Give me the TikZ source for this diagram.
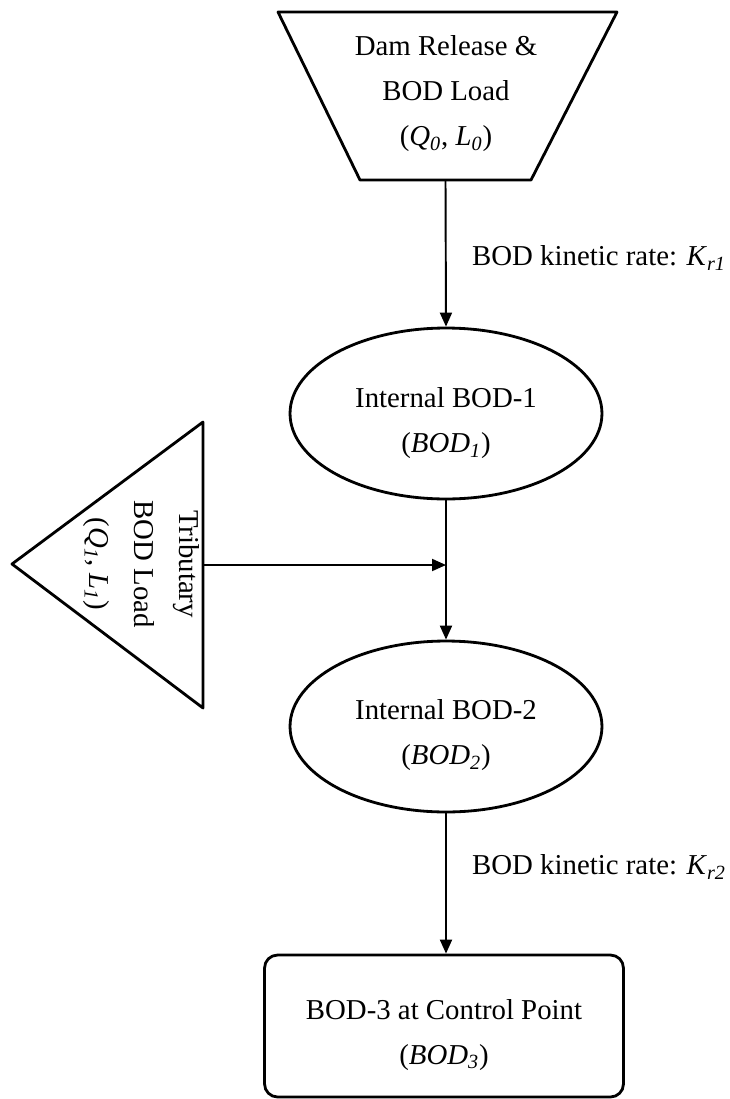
\documentclass[tikz,border=0pt]{standalone}
\usepackage{fontspec}
\setmainfont{Liberation Serif}
\usetikzlibrary{calc,shapes.geometric,arrows.meta}

\newcommand{\vsub}[2]{\textit{#1}\textsubscript{\textit{#2}}}

\begin{document}
\begin{tikzpicture}[x=.02cm,y=-.02cm,line cap=round,line join=round,
  every node/.style={font=\fontsize{16.4}{25.6}\selectfont},
  outline/.style={line width=1.6pt},
  blob/.style={draw,ellipse,line width=1.6pt,minimum width=6.24cm,
    minimum height=3.42cm,inner sep=0pt},
  endbox/.style={draw,rectangle,rounded corners=.26cm,line width=1.6pt,
    minimum width=7.18cm,minimum height=2.84cm},
  flow/.style={line width=1.1pt,-{Triangle[length=2.8mm,width=2.4mm]}}]
  \useasboundingbox (0,0) rectangle (730,1099);
  % dam release (trapezoid) and tributary (triangle)
  \coordinate (T1) at (278,12);
  \coordinate (T2) at (617,12);
  \coordinate (T3) at (531,180);
  \coordinate (T4) at (360,180);
  \coordinate (R1) at (12,564);
  \coordinate (R2) at (203,422);
  \coordinate (R3) at (203,708);
  \coordinate (damout) at ($(T3)!.5!(T4)$);
  \coordinate (tribout) at ($(R2)!.5!(R3)$);
  \draw[outline] (T1)--(T2)--(T3)--(T4)--cycle;
  \draw[outline] (R1)--(R2)--(R3)--cycle;
  \node[align=center] (dam) at (446,94)
    {Dam Release \&\\BOD Load\\(\vsub{Q}{0}, \vsub{L}{0})};
  \node[align=center,rotate=-90] (trib) at (141,564)
    {Tributary\\BOD Load\\(\vsub{Q}{1}, \vsub{L}{1})};
  \node[blob] (int1) at (446,413.5) {};
  \node[blob] (int2) at (446,726.5) {};
  \node[endbox] (ctrl) at (444,1026) {};
  \node[align=center] (int1txt) at ($(int1)+(0,10)$) {Internal BOD-1\\(\vsub{BOD}{1})};
  \node[align=center] (int2txt) at ($(int2)+(0,9)$) {Internal BOD-2\\(\vsub{BOD}{2})};
  \node[align=center] (ctrltxt) at ($(ctrl)+(0,9)$) {BOD-3 at Control Point\\(\vsub{BOD}{3})};
  \draw[flow] (damout) -- (int1.north);
  \draw[flow] (int1.south) -- (int2.north);
  \draw[flow] (tribout) -- (tribout -| int1.south);
  \draw[flow] (int2.south) -- (int2.south |- ctrl.north);
  \node[anchor=west] (rate1) at (466,258) {BOD kinetic rate: \vsub{K}{r1}};
  \node[anchor=west] (rate2) at (466,867) {BOD kinetic rate: \vsub{K}{r2}};
\end{tikzpicture}
\end{document}
